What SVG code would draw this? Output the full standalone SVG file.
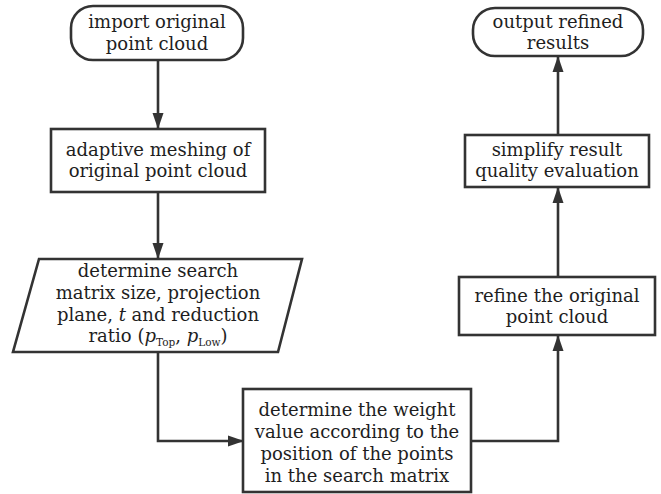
<svg xmlns="http://www.w3.org/2000/svg" width="661" height="494" viewBox="0 0 661 494">
<style>
.box{fill:#fff;stroke:#333;stroke-width:2.6}
.t{font-family:"DejaVu Serif","Liberation Serif",serif;font-size:18px;fill:#1e1e1e;text-anchor:middle}
.c{fill:none;stroke:#333;stroke-width:2.6}
.i{font-style:italic}
.s{font-size:10.5px}
</style>
<defs>
<marker id="a" markerWidth="16" markerHeight="12" refX="15" refY="6" orient="auto" markerUnits="userSpaceOnUse">
<path d="M0,0.5 L16,6 L0,11.5 Z" fill="#333"/>
</marker>
</defs>
<rect width="661" height="494" fill="#fff"/>
<g id="connectors">
<path class="c" d="M158,60 V128" marker-end="url(#a)"/>
<path class="c" d="M158,192 V258" marker-end="url(#a)"/>
<path class="c" d="M158,352 V441 H243" marker-end="url(#a)"/>
<path class="c" d="M471,441 H558 V336" marker-end="url(#a)"/>
<path class="c" d="M558,277 V188" marker-end="url(#a)"/>
<path class="c" d="M558,135 V57" marker-end="url(#a)"/>
</g>
<g id="n1">
<rect class="box" x="71" y="6" width="172" height="54" rx="22"/>
<text class="t" x="157" y="28">import original</text>
<text class="t" x="157" y="50">point cloud</text>
</g>
<g id="n2">
<rect class="box" x="51" y="129" width="214" height="63"/>
<text class="t" x="158" y="156">adaptive meshing of</text>
<text class="t" x="158" y="177">original point cloud</text>
</g>
<g id="n3">
<polygon class="box" points="39,259 302,259 278,352 13,352"/>
<text class="t" x="158" y="277">determine search</text>
<text class="t" x="158" y="299">matrix size, projection</text>
<text class="t" x="158" y="321">plane, <tspan class="i">t</tspan> and reduction</text>
<text class="t" x="158" y="342">ratio (<tspan class="i">p</tspan><tspan class="s" dy="4">Top</tspan><tspan dy="-4">, </tspan><tspan class="i">p</tspan><tspan class="s" dy="4">Low</tspan><tspan dy="-4">)</tspan></text>
</g>
<g id="n4">
<rect class="box" x="243" y="389" width="228" height="103"/>
<text class="t" x="357" y="416">determine the weight</text>
<text class="t" x="357" y="438">value according to the</text>
<text class="t" x="357" y="460">position of the points</text>
<text class="t" x="357" y="482">in the search matrix</text>
</g>
<g id="n5">
<rect class="box" x="459" y="277" width="196" height="58"/>
<text class="t" x="557" y="302">refine the original</text>
<text class="t" x="557" y="323">point cloud</text>
</g>
<g id="n6">
<rect class="box" x="465" y="135" width="184" height="52"/>
<text class="t" x="557" y="156">simplify result</text>
<text class="t" x="557" y="177">quality evaluation</text>
</g>
<g id="n7">
<rect class="box" x="473" y="8" width="170" height="48" rx="22"/>
<text class="t" x="558" y="28">output refined</text>
<text class="t" x="558" y="49">results</text>
</g>
</svg>
